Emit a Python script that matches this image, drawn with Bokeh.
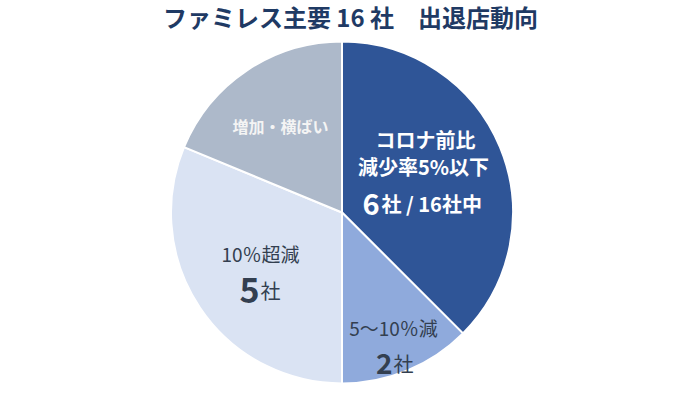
import numpy as np
from bokeh.plotting import figure
from bokeh.models import Range1d, ColumnDataSource
from bokeh.core.properties import value
from bokeh.embed import file_html
from bokeh.resources import INLINE

# ---- data ----
title = "ファミレス主要 16 社　出退店動向"
categories = ["コロナ前比 減少率5%以下", "5～10％減", "10％超減", "増加・横ばい"]
counts = [6, 2, 5, 3]
colors = ["#2F5597", "#8FAADC", "#DAE3F3", "#ADB9CA"]
total = 16

FONT = "Noto Sans CJK JP"
W, H = 700, 393
p = figure(width=W, height=H, output_backend="svg", toolbar_location=None,
           x_range=Range1d(0, W), y_range=Range1d(0, H), min_border=0,
           x_axis_type=None, y_axis_type=None)
p.outline_line_color = None
p.background_fill_color = "white"
p.border_fill_color = "white"

def px(x):
    return x

def py(y):
    return H - y

# ---- pie ----
cx, cy, R = px(341.5), py(212), 171
cum = np.concatenate([[0], np.cumsum(counts)])
start = np.pi / 2 - 2 * np.pi * cum[:-1] / total
end = np.pi / 2 - 2 * np.pi * cum[1:] / total
src = ColumnDataSource(dict(start=start, end=end, color=colors, cat=categories, n=counts))
p.wedge(x=cx, y=cy, radius=R, start_angle="start", end_angle="end", direction="clock",
        fill_color="color", line_color="white", line_width=2, source=src)

# ---- text ----
def put(txt, x, y, size, color, align="center", baseline="middle", bold=True):
    p.text(x=[px(x)], y=[py(y)], text=[txt], text_font=value(FONT),
           text_font_size=f"{size}px", text_color=color, text_align=align,
           text_baseline=baseline, text_font_style="bold" if bold else "normal")

put(title, 350, 16, 24, "#1F3A64")

DARK = "#333F50"
# slice 1
put("コロナ前比", 425, 139, 20, "white")
put("減少率5%以下", 423, 166, 20, "white")
put(f"{counts[0]}", 379, 203, 29, "white", align="right", baseline="alphabetic")
put(f"社 / {total}社中", 381, 203, 20, "white", align="left", baseline="alphabetic")
# slice 2
put(categories[1], 393, 327, 19, DARK, bold=False)
put(f"{counts[1]}", 392, 363, 28, DARK, align="right", baseline="alphabetic")
put("社", 393, 363, 20, DARK, align="left", baseline="alphabetic", bold=False)
# slice 3
put(categories[2], 260, 253, 19, DARK, bold=False)
put(f"{counts[2]}", 259, 290, 34, DARK, align="right", baseline="alphabetic")
put("社", 260, 290, 20, DARK, align="left", baseline="alphabetic", bold=False)
# slice 4
put(categories[3], 280, 125, 16, "#F4F4F4")

open("out.html", "w").write(file_html(p, INLINE))
